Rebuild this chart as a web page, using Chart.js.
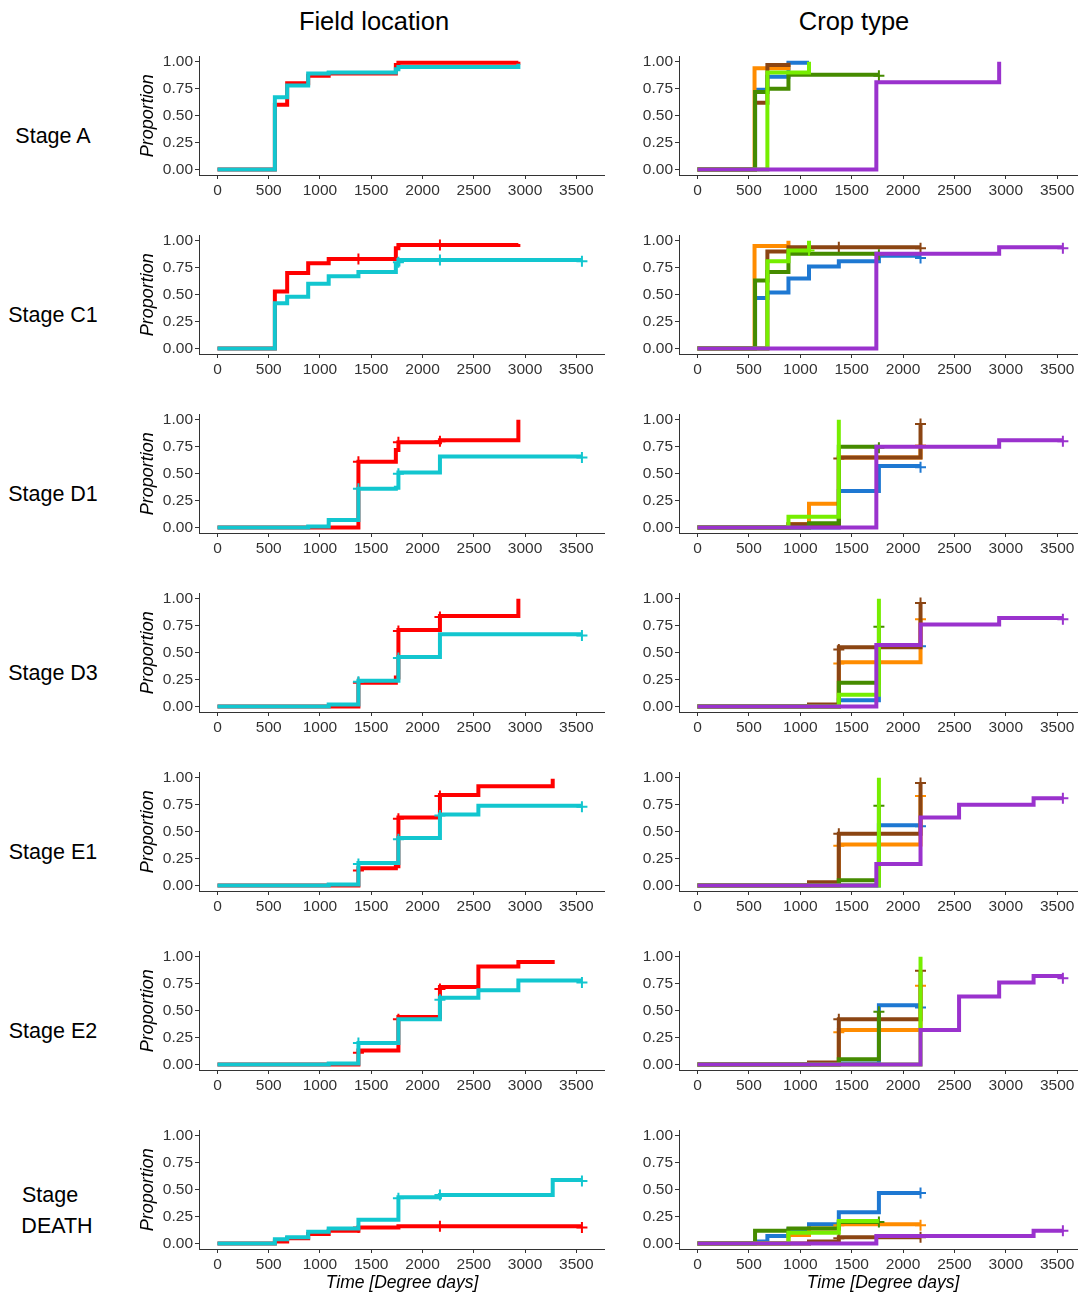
<!DOCTYPE html>
<html><head><meta charset="utf-8">
<script src="https://cdn.jsdelivr.net/npm/chart.js@4.4.1/dist/chart.umd.min.js"></script>
<style>
html,body{margin:0;padding:0;background:#fff;}
body{width:1078px;height:1294px;position:relative;overflow:hidden;font-family:"Liberation Sans",Arial,sans-serif;}
.lbl{position:absolute;white-space:nowrap;color:#000;transform:translate(-50%,-50%);line-height:1;}
canvas{position:absolute;}
</style></head><body>
<div id="root"></div>
<script>
// ---------- axis ticks / labels ----------
const xTicks = [0, 500, 1000, 1500, 2000, 2500, 3000, 3500];
const yTicks = [0, 0.25, 0.5, 0.75, 1];
const columnTitles = ['Field location', 'Crop type'];
const stageLabels = ['Stage A', 'Stage C1', 'Stage D1', 'Stage D3', 'Stage E1', 'Stage E2', 'Stage\nDEATH'];
const xTitle = 'Time [Degree days]';
const yTitle = 'Proportion';

// ---------- series colours ----------
const fieldColors = ['#FF0000', '#12C6CF'];                       // field 1 (red), field 2 (cyan)
const cropColors = ['#1E78D2', '#FF8C00', '#8B4513', '#458B00', '#76EE00', '#9A32CD']; // blue, orange, brown, dark green, light green, purple

// ---------- Stage A ----------
const fieldA_1 = [[0,0],[560,0.60],[680,0.80],[885,0.87],[1085,0.89],[1740,0.97],[1765,0.99],[2935,1.00]];
const fieldA_2 = [[0,0],[560,0.67],[680,0.78],[885,0.89],[1085,0.90],[1740,0.93],[1765,0.95],[2935,0.98]];
const fieldA_1c = []; const fieldA_2c = [];
const cropA_blue = [[0,0],[560,0.74],[680,0.86],[885,0.99],[1085,0.99]];
const cropA_orange = [[0,0],[555,0.94],[680,0.94],[885,0.97]];
const cropA_brown = [[0,0],[560,0.62],[680,0.97],[885,0.99]];
const cropA_dgreen = [[0,0],[560,0.72],[680,0.75],[885,0.88],[1765,0.88]];
const cropA_lgreen = [[0,0],[680,0.90],[1085,1.00]];
const cropA_purple = [[0,0],[1740,0.81],[2935,1.00]];
const cropA_blue_c = []; const cropA_orange_c = []; const cropA_brown_c = [];
const cropA_dgreen_c = [[1765,0.87]]; const cropA_lgreen_c = []; const cropA_purple_c = [];

// ---------- Stage C1 ----------
const fieldC1_1 = [[0,0],[560,0.53],[680,0.70],[885,0.79],[1085,0.83],[1740,0.93],[1765,0.96],[2935,0.97]];
const fieldC1_2 = [[0,0],[560,0.42],[680,0.48],[885,0.60],[1085,0.67],[1375,0.71],[1740,0.78],[1765,0.82],[3555,0.82]];
const fieldC1_1c = [[1375,0.83],[2170,0.96]];
const fieldC1_2c = [[1765,0.80],[2170,0.82],[3555,0.81]];
const cropC1_blue = [[0,0],[560,0.47],[680,0.52],[885,0.65],[1085,0.76],[1375,0.81],[1765,0.86],[2170,0.86]];
const cropC1_orange = [[0,0],[555,0.95],[885,1.00]];
const cropC1_brown = [[0,0],[680,0.90],[885,0.94],[2170,0.94]];
const cropC1_dgreen = [[0,0],[560,0.63],[680,0.71],[885,0.88],[1765,0.88]];
const cropC1_lgreen = [[0,0],[680,0.81],[885,0.91],[1085,1.00]];
const cropC1_purple = [[0,0],[1740,0.88],[2935,0.94],[3555,0.94]];
const cropC1_blue_c = [[2170,0.84]]; const cropC1_orange_c = []; const cropC1_brown_c = [[1375,0.94],[2170,0.93]];
const cropC1_dgreen_c = [[1765,0.87]]; const cropC1_lgreen_c = [[1085,0.91]]; const cropC1_purple_c = [[3555,0.93]];

// ---------- Stage D1 ----------
const fieldD1_1 = [[0,0],[1375,0.61],[1740,0.72],[1765,0.79],[2170,0.81],[2935,1.00]];
const fieldD1_2 = [[0,0],[885,0.01],[1085,0.07],[1375,0.36],[1740,0.37],[1765,0.51],[2170,0.66],[3555,0.66]];
const fieldD1_1c = [[1375,0.61],[1765,0.79],[2170,0.80]];
const fieldD1_2c = [[1375,0.36],[1765,0.50],[3555,0.65]];
const cropD1_blue = [[0,0],[1375,0.34],[1765,0.57],[2170,0.57]];
const cropD1_orange = [[0,0],[885,0.03],[1085,0.22],[1375,0.65],[2170,0.76]];
const cropD1_brown = [[0,0],[885,0.03],[1375,0.65],[2170,0.96]];
const cropD1_dgreen = [[0,0],[1085,0.04],[1375,0.75],[1765,0.75]];
const cropD1_lgreen = [[0,0],[885,0.10],[1375,1.00]];
const cropD1_purple = [[0,0],[1740,0.75],[2935,0.81],[3555,0.81]];
const cropD1_blue_c = [[2170,0.56]]; const cropD1_orange_c = [[2170,0.76]]; const cropD1_brown_c = [[1375,0.64],[2170,0.96]];
const cropD1_dgreen_c = [[1765,0.74]]; const cropD1_lgreen_c = []; const cropD1_purple_c = [[3555,0.80]];

// ---------- Stage D3 ----------
const fieldD3_1 = [[0,0],[1375,0.22],[1740,0.27],[1765,0.71],[2170,0.84],[2935,1.00]];
const fieldD3_2 = [[0,0],[1085,0.02],[1375,0.24],[1765,0.46],[2170,0.67],[3555,0.67]];
const fieldD3_1c = [[1375,0.22],[1765,0.70],[2170,0.83]];
const fieldD3_2c = [[1375,0.23],[1765,0.45],[3555,0.66]];
const cropD3_blue = [[0,0],[1375,0.06],[1765,0.57],[2170,0.57]];
const cropD3_orange = [[0,0],[1375,0.41],[2170,0.81]];
const cropD3_brown = [[0,0],[1085,0.02],[1375,0.55],[2170,0.96]];
const cropD3_dgreen = [[0,0],[1375,0.22],[1765,0.74]];
const cropD3_lgreen = [[0,0],[1375,0.11],[1765,1.00]];
const cropD3_purple = [[0,0],[1740,0.57],[2170,0.76],[2935,0.82],[3555,0.82]];
const cropD3_blue_c = [[2170,0.56]]; const cropD3_orange_c = [[1375,0.40],[2170,0.81]]; const cropD3_brown_c = [[1375,0.53],[2170,0.96]];
const cropD3_dgreen_c = [[1765,0.74]]; const cropD3_lgreen_c = []; const cropD3_purple_c = [[3555,0.81]];

// ---------- Stage E1 ----------
const fieldE1_1 = [[0,0],[1375,0.16],[1740,0.18],[1765,0.63],[2170,0.84],[2545,0.92],[3270,0.99]];
const fieldE1_2 = [[0,0],[1085,0.01],[1375,0.21],[1765,0.44],[2170,0.66],[2545,0.74],[3555,0.74]];
const fieldE1_1c = [[1375,0.14],[1765,0.62],[2170,0.83]];
const fieldE1_2c = [[1375,0.20],[1765,0.43],[2170,0.65],[3555,0.73]];
const cropE1_blue = [[0,0],[1765,0.56],[2170,0.56]];
const cropE1_orange = [[0,0],[1375,0.38],[2170,0.83]];
const cropE1_brown = [[0,0],[1085,0.03],[1375,0.48],[2170,0.95]];
const cropE1_dgreen = [[0,0],[1375,0.05],[1765,0.74]];
const cropE1_lgreen = [[0,0],[1765,1.00]];
const cropE1_purple = [[0,0],[1740,0.20],[2170,0.63],[2545,0.75],[3270,0.81],[3555,0.81]];
const cropE1_blue_c = [[2170,0.55]]; const cropE1_orange_c = [[1375,0.37],[2170,0.83]]; const cropE1_brown_c = [[1375,0.48],[2170,0.95]];
const cropE1_dgreen_c = [[1765,0.74]]; const cropE1_lgreen_c = []; const cropE1_purple_c = [[3555,0.81]];

// ---------- Stage E2 ----------
const fieldE2_1 = [[0,0],[1375,0.13],[1765,0.44],[2170,0.72],[2545,0.91],[2935,0.95],[3270,0.97]];
const fieldE2_2 = [[0,0],[1085,0.01],[1375,0.20],[1765,0.42],[2170,0.62],[2545,0.69],[2935,0.78],[3555,0.78]];
const fieldE2_1c = [[1375,0.11],[1765,0.42],[2170,0.70]];
const fieldE2_2c = [[1375,0.20],[2170,0.60],[3555,0.76]];
const cropE2_blue = [[0,0],[1375,0.01],[1765,0.55],[2170,0.55]];
const cropE2_orange = [[0,0],[1375,0.32],[2170,0.73]];
const cropE2_brown = [[0,0],[1085,0.02],[1375,0.42],[2170,0.87]];
const cropE2_dgreen = [[0,0],[1375,0.05],[1765,0.49]];
const cropE2_lgreen = [[0,0],[2170,1.00]];
const cropE2_purple = [[0,0],[2170,0.32],[2545,0.63],[2935,0.76],[3270,0.82],[3555,0.82]];
const cropE2_blue_c = [[2170,0.53]]; const cropE2_orange_c = [[1375,0.30],[2170,0.73]]; const cropE2_brown_c = [[1375,0.42],[2170,0.87]];
const cropE2_dgreen_c = [[1765,0.49]]; const cropE2_lgreen_c = []; const cropE2_purple_c = [[3555,0.80]];

// ---------- Stage DEATH ----------
const fieldDeath_1 = [[0,0],[560,0.02],[680,0.05],[885,0.09],[1085,0.12],[1375,0.15],[1765,0.16],[3555,0.16]];
const fieldDeath_2 = [[0,0],[560,0.04],[680,0.06],[885,0.11],[1085,0.14],[1375,0.22],[1765,0.43],[2170,0.45],[3270,0.59],[3555,0.59]];
const fieldDeath_1c = [[1375,0.15],[2170,0.16],[3555,0.15]];
const fieldDeath_2c = [[1765,0.42],[2170,0.45],[3555,0.58]];
const cropDeath_blue = [[0,0],[560,0.02],[680,0.07],[885,0.13],[1085,0.18],[1375,0.29],[1765,0.47],[2170,0.47]];
const cropDeath_orange = [[0,0],[885,0.08],[1085,0.14],[1375,0.18],[2170,0.18]];
const cropDeath_brown = [[0,0],[1085,0.02],[1375,0.06],[2170,0.06]];
const cropDeath_dgreen = [[0,0],[560,0.12],[885,0.14],[1375,0.20],[1765,0.20]];
const cropDeath_lgreen = [[0,0],[885,0.10],[1375,0.21],[1765,0.21]];
const cropDeath_purple = [[0,0],[1740,0.07],[3270,0.12],[3555,0.12]];
const cropDeath_blue_c = [[2170,0.47]]; const cropDeath_orange_c = [[1375,0.17],[2170,0.17]]; const cropDeath_brown_c = [[1375,0.05],[2170,0.06]];
const cropDeath_dgreen_c = [[1765,0.20]]; const cropDeath_lgreen_c = []; const cropDeath_purple_c = [[3555,0.12]];

// ---------- tables built from the arrays above ----------
const fieldCurves = [
  [fieldA_1, fieldA_2], [fieldC1_1, fieldC1_2], [fieldD1_1, fieldD1_2], [fieldD3_1, fieldD3_2],
  [fieldE1_1, fieldE1_2], [fieldE2_1, fieldE2_2], [fieldDeath_1, fieldDeath_2]];
const fieldCensors = [
  [fieldA_1c, fieldA_2c], [fieldC1_1c, fieldC1_2c], [fieldD1_1c, fieldD1_2c], [fieldD3_1c, fieldD3_2c],
  [fieldE1_1c, fieldE1_2c], [fieldE2_1c, fieldE2_2c], [fieldDeath_1c, fieldDeath_2c]];
const cropCurves = [
  [cropA_blue, cropA_orange, cropA_brown, cropA_dgreen, cropA_lgreen, cropA_purple],
  [cropC1_blue, cropC1_orange, cropC1_brown, cropC1_dgreen, cropC1_lgreen, cropC1_purple],
  [cropD1_blue, cropD1_orange, cropD1_brown, cropD1_dgreen, cropD1_lgreen, cropD1_purple],
  [cropD3_blue, cropD3_orange, cropD3_brown, cropD3_dgreen, cropD3_lgreen, cropD3_purple],
  [cropE1_blue, cropE1_orange, cropE1_brown, cropE1_dgreen, cropE1_lgreen, cropE1_purple],
  [cropE2_blue, cropE2_orange, cropE2_brown, cropE2_dgreen, cropE2_lgreen, cropE2_purple],
  [cropDeath_blue, cropDeath_orange, cropDeath_brown, cropDeath_dgreen, cropDeath_lgreen, cropDeath_purple]];
const cropCensors = [
  [cropA_blue_c, cropA_orange_c, cropA_brown_c, cropA_dgreen_c, cropA_lgreen_c, cropA_purple_c],
  [cropC1_blue_c, cropC1_orange_c, cropC1_brown_c, cropC1_dgreen_c, cropC1_lgreen_c, cropC1_purple_c],
  [cropD1_blue_c, cropD1_orange_c, cropD1_brown_c, cropD1_dgreen_c, cropD1_lgreen_c, cropD1_purple_c],
  [cropD3_blue_c, cropD3_orange_c, cropD3_brown_c, cropD3_dgreen_c, cropD3_lgreen_c, cropD3_purple_c],
  [cropE1_blue_c, cropE1_orange_c, cropE1_brown_c, cropE1_dgreen_c, cropE1_lgreen_c, cropE1_purple_c],
  [cropE2_blue_c, cropE2_orange_c, cropE2_brown_c, cropE2_dgreen_c, cropE2_lgreen_c, cropE2_purple_c],
  [cropDeath_blue_c, cropDeath_orange_c, cropDeath_brown_c, cropDeath_dgreen_c, cropDeath_lgreen_c, cropDeath_purple_c]];

// ---------- rendering ----------
const FONT = '"Liberation Sans", Arial, sans-serif';
const root = document.getElementById('root');

function addLabel(text, x, y, size, italic) {
  const d = document.createElement('div');
  d.className = 'lbl';
  d.textContent = text;
  d.style.left = x + 'px'; d.style.top = y + 'px';
  d.style.fontSize = size + 'px';
  if (italic) d.style.fontStyle = 'italic';
  root.appendChild(d);
}

function makePanel(left, top, width, curves, censors, colors, showYTitle) {
  const cv = document.createElement('canvas');
  cv.width = width; cv.height = 160;
  cv.style.left = left + 'px'; cv.style.top = top + 'px';
  cv.style.width = width + 'px'; cv.style.height = '160px';
  root.appendChild(cv);
  const n = curves.length;
  const datasets = [];
  curves.forEach((c, i) => {
    const rank = n - i; // later series drawn on top
    datasets.push({
      data: c.map(([x, y]) => ({ x, y })),
      borderColor: colors[i], backgroundColor: colors[i],
      borderWidth: 4, stepped: 'before', pointRadius: 0, pointHoverRadius: 0,
      fill: false, showLine: true, order: rank * 2 + 1, borderJoinStyle: 'miter', borderCapStyle: 'butt'
    });
    datasets.push({
      data: censors[i].map(([x, y]) => ({ x, y })),
      borderColor: colors[i], backgroundColor: colors[i],
      showLine: false, pointStyle: 'cross', pointRadius: 5.5, pointBorderWidth: 2,
      pointHoverRadius: 5.5, order: rank * 2
    });
  });
  const tickFont = { family: FONT, size: 15.5 };
  new Chart(cv, {
    type: 'line',
    data: { datasets },
    options: {
      responsive: false, animation: false, devicePixelRatio: 1,
      layout: { autoPadding: false, padding: { top: 11, left: 0, right: 0, bottom: 0 } },
      plugins: { legend: { display: false }, tooltip: { enabled: false } },
      events: [],
      scales: {
        x: {
          type: 'linear', min: -180, max: 3780,
          afterBuildTicks: a => { a.ticks = xTicks.map(v => ({ value: v })); },
          afterFit: s => { s.height = 30; },
          border: { display: true, color: '#333', width: 1 },
          grid: { display: true, drawOnChartArea: false, drawTicks: true, tickLength: 4, tickColor: '#333', tickWidth: 1 },
          ticks: { color: '#333', font: tickFont, padding: 2, maxRotation: 0, autoSkip: false, callback: v => String(v) }
        },
        y: {
          type: 'linear', min: -0.05, max: 1.05,
          afterBuildTicks: a => { a.ticks = yTicks.map(v => ({ value: v })); },
          afterFit: s => { s.width = 70; },
          border: { display: true, color: '#333', width: 1 },
          grid: { display: true, drawOnChartArea: false, drawTicks: true, tickLength: 4, tickColor: '#333', tickWidth: 1 },
          ticks: { color: '#333', font: tickFont, padding: 2, callback: v => v.toFixed(2) },
          title: { display: showYTitle, text: yTitle, color: '#000', font: { family: FONT, size: 18, style: 'italic' }, padding: { top: 8, bottom: 0 } }
        }
      }
    }
  });
}

addLabel(columnTitles[0], 374, 22, 25.5, false);
addLabel(columnTitles[1], 854, 22, 25.5, false);

for (let r = 0; r < 7; r++) {
  const top = 45 + 179 * r;
  makePanel(129, top, 476, fieldCurves[r], fieldCensors[r], fieldColors, true);
  makePanel(609, top, 477, cropCurves[r], cropCensors[r], cropColors, false);
  const lines = stageLabels[r].split('\n');
  if (lines.length === 1) {
    addLabel(lines[0], 53, 137 + 179 * r, 21.5, false);
  } else {
    addLabel(lines[0], 50, 1196, 21.5, false);
    addLabel(lines[1], 57, 1227, 21.5, false);
  }
}
addLabel(xTitle, 402, 1283, 17.5, true);
addLabel(xTitle, 883, 1283, 17.5, true);
</script>
</body></html>
